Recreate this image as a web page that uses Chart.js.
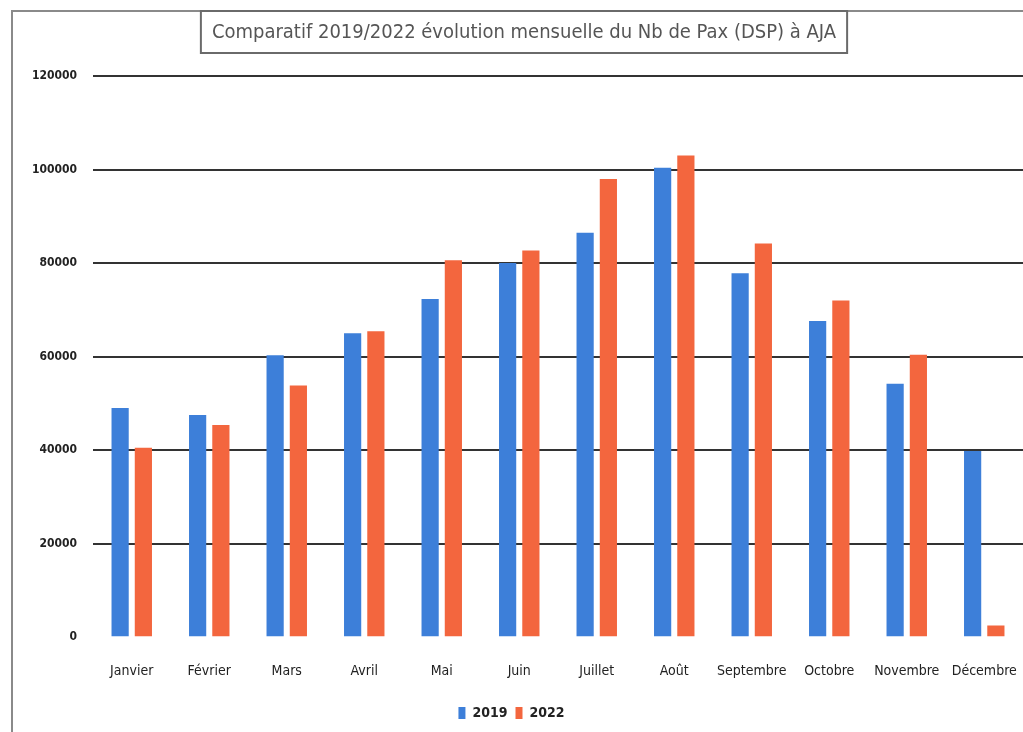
<!DOCTYPE html>
<html>
<head>
<meta charset="utf-8">
<script src="https://cdn.jsdelivr.net/npm/chart.js@4/dist/chart.umd.min.js"></script>
<style>
  html, body { margin: 0; padding: 0; background: #fff; }
  #wrap { width: 1023px; height: 732px; position: relative; }
</style>
</head>
<body>
<div id="wrap"><canvas id="paxChart"></canvas></div>
<script>
const months = ['Janvier', 'Février', 'Mars', 'Avril', 'Mai', 'Juin', 'Juillet', 'Août', 'Septembre', 'Octobre', 'Novembre', 'Décembre'];
const pax2019 = [49000, 47500, 60300, 65000, 72300, 80000, 86500, 100400, 77800, 67600, 54200, 39800];
const pax2022 = [40500, 45400, 53800, 65400, 80600, 82700, 98000, 103000, 84200, 72000, 60400, 2500];
const yTicks = [0, 20000, 40000, 60000, 80000, 100000, 120000];
const titleText = 'Comparatif 2019/2022 évolution mensuelle du Nb de Pax (DSP) à AJA';

const narrow = "'Liberation Sans Narrow', 'DejaVu Sans Condensed', 'Roboto', sans-serif";

// frame round the chart + boxed title, drawn like the scanned Excel chart
const framePlugin = {
    id: 'frame',
    beforeDraw(chart) {
        const ctx = chart.ctx;
        ctx.save();
        ctx.strokeStyle = '#8a8a8a';
        ctx.lineWidth = 2;
        ctx.beginPath();
        ctx.moveTo(12, chart.height);
        ctx.lineTo(12, 11);
        ctx.lineTo(chart.width, 11);
        ctx.stroke();
        ctx.restore();
    },
    afterDraw(chart) {
        const ctx = chart.ctx;
        ctx.save();
        ctx.font = '20px ' + narrow;
        const w = ctx.measureText(titleText).width;
        const cx = 524;
        const boxW = Math.max(w + 22, 200);
        ctx.fillStyle = '#fff';
        ctx.fillRect(cx - boxW / 2, 11, boxW, 42);
        ctx.strokeStyle = '#6a6a6a';
        ctx.lineWidth = 2;
        ctx.strokeRect(cx - boxW / 2, 11, boxW, 42);
        ctx.fillStyle = '#555';
        ctx.textAlign = 'center';
        ctx.textBaseline = 'middle';
        ctx.fillText(titleText, cx, 33);
        ctx.restore();
    }
};

new Chart(document.getElementById('paxChart'), {
    type: 'bar',
    data: {
        labels: months,
        datasets: [
            { label: '2019', data: pax2019, backgroundColor: '#3d7fd9', categoryPercentage: 0.6, barPercentage: 0.74 },
            { label: '2022', data: pax2022, backgroundColor: '#f3663e', categoryPercentage: 0.6, barPercentage: 0.74 }
        ]
    },
    options: {
        responsive: true,
        maintainAspectRatio: false,
        animation: false,
        layout: { padding: { top: 76, right: 0, bottom: 2, left: 0 } },
        plugins: {
            title: { display: false },
            tooltip: { enabled: false },
            legend: {
                position: 'bottom',
                labels: {
                    boxWidth: 7,
                    boxHeight: 12,
                    padding: 8,
                    color: '#222',
                    font: { family: narrow, size: 14, weight: 'bold' }
                }
            }
        },
        scales: {
            x: {
                grid: { display: false },
                border: { display: false },
                afterFit(scale) { scale.paddingRight = 0; scale.paddingLeft = 0; },
                ticks: {
                    color: '#222',
                    padding: 18,
                    maxRotation: 0,
                    autoSkip: false,
                    font: { family: narrow, size: 14 }
                }
            },
            y: {
                min: 0,
                max: 120000,
                afterBuildTicks(scale) { scale.ticks = yTicks.map(v => ({ value: v })); },
                afterFit(scale) { scale.width = 93; },
                border: { display: false },
                grid: {
                    drawTicks: false,
                    lineWidth: 2,
                    color: ctx => ctx.tick && ctx.tick.value === 0 ? 'rgba(0,0,0,0)' : '#333'
                },
                ticks: {
                    color: '#222',
                    padding: 16,
                    callback: v => String(v),
                    font: { family: narrow, size: 12, weight: 'bold' }
                }
            }
        }
    },
    plugins: [framePlugin]
});
</script>
</body>
</html>
